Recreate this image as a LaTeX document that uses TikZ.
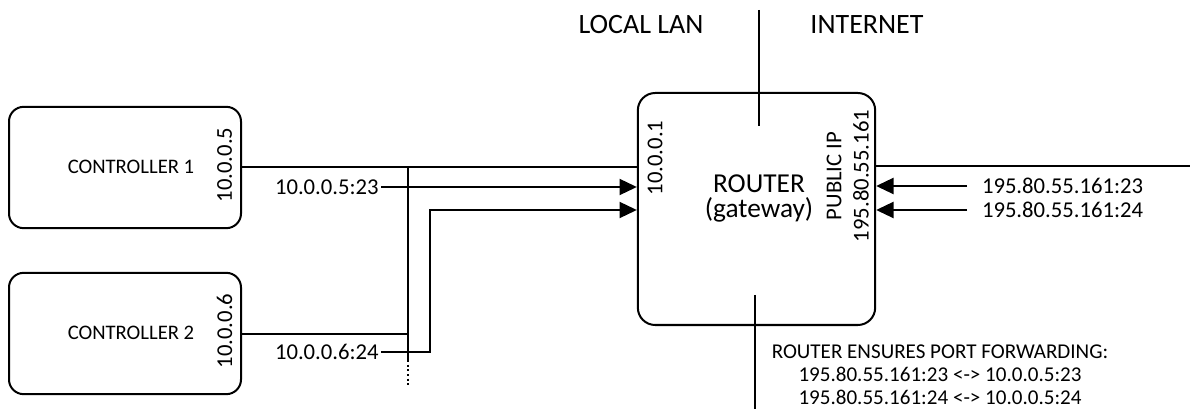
\documentclass[tikz,border=0pt]{standalone}
\usepackage{fontspec}
\setmainfont{Carlito}
\usetikzlibrary{arrows.meta, positioning}

\begin{document}
\begin{tikzpicture}[
  x=0.75pt, y=-0.75pt,
  line width=1.5pt,
  every node/.style={font=\fontsize{17}{19}\selectfont, inner sep=1pt},
  device/.style={rectangle, rounded corners=11pt, draw, minimum width=174pt, minimum height=91pt},
  router/.style={rectangle, rounded corners=13pt, draw, minimum width=178pt, minimum height=174pt},
  devname/.style={font=\fontsize{15.5}{17}\selectfont},
  ip/.style={rotate=90},
  zone/.style={font=\fontsize{21}{24}\selectfont},
  note/.style={align=center, font=\fontsize{15.8}{17.3}\selectfont},
  arrow/.style={-{Triangle[length=13pt, width=12pt]}}
]
\useasboundingbox (0,0) rectangle (1198,409);

% devices on the local side
\node[device] (ctrl1) at (125,167.5) {};
\node[device] (ctrl2) at (125,333.5) {};
\node[devname] (name1) at (131,167) {CONTROLLER 1};
\node[devname] (name2) at (131,333) {CONTROLLER 2};
\node[ip] (ip1) at (224.5,165) {10.0.0.5};
\node[ip] (ip2) at (224.5,331) {10.0.0.6};

% router
\node[router] (gw) at (756.5,209) {};
\node[align=center, inner sep=0pt, font=\fontsize{20.5}{18.75}\selectfont] (gwname) at (759,198.5) {ROUTER\\(gateway)};
\node[ip] (lanip) at (655,158) {10.0.0.1};
\node[ip] (pubtxt) at (834,176) {PUBLIC IP};
\node[ip] (pubip) at (861,176) {195.80.55.161};

% zones
\node[zone] (lan) at (641,25) {LOCAL LAN};
\node[zone] (inet) at (867,25) {INTERNET};
\coordinate (divtop) at (759,10);
\coordinate (divmid) at (759,126);
\coordinate (divlow) at (755,295);
\coordinate (divend) at (755,409);
\draw (divtop) -- (divmid);
\draw (divlow) -- (divend);

% local bus
\coordinate (busend) at (408,360);
\coordinate (busdots) at (408,387);
\draw (ctrl1.east) -- (ctrl1.east -| gw.west);
\draw (ctrl1.east -| busend) -- (busend);
\draw[dotted] (busend) -- (busdots);
\draw (ctrl2.east) -- (ctrl2.east -| busend);

% forwarded ports, local side
\node[anchor=east] (port23) at (381,187) {10.0.0.5:23};
\node[anchor=east] (port24) at (381,352) {10.0.0.6:24};
\coordinate (jog) at (430,210);
\draw[arrow] (port23.east) -- (port23.east -| gw.west);
\draw[arrow] (port24.east) -| (jog) -- (jog -| gw.west);

% internet side
\coordinate (wan) at (1190,166);
\draw (gw.east |- wan) -- (wan);
\node[anchor=west] (pub23) at (967,186) {\hspace{9.5pt}195.80.55.161:23};
\node[anchor=west] (pub24) at (967,210) {\hspace{9.5pt}195.80.55.161:24};
\draw[arrow] (pub23.west) -- (pub23.west -| gw.east);
\draw[arrow] (pub24.west) -- (pub24.west -| gw.east);

% forwarding note
\node[note] (fwd) at (940,375) {ROUTER ENSURES PORT FORWARDING:\\195.80.55.161:23 <-> 10.0.0.5:23\\195.80.55.161:24 <-> 10.0.0.5:24};

\end{tikzpicture}
\end{document}
